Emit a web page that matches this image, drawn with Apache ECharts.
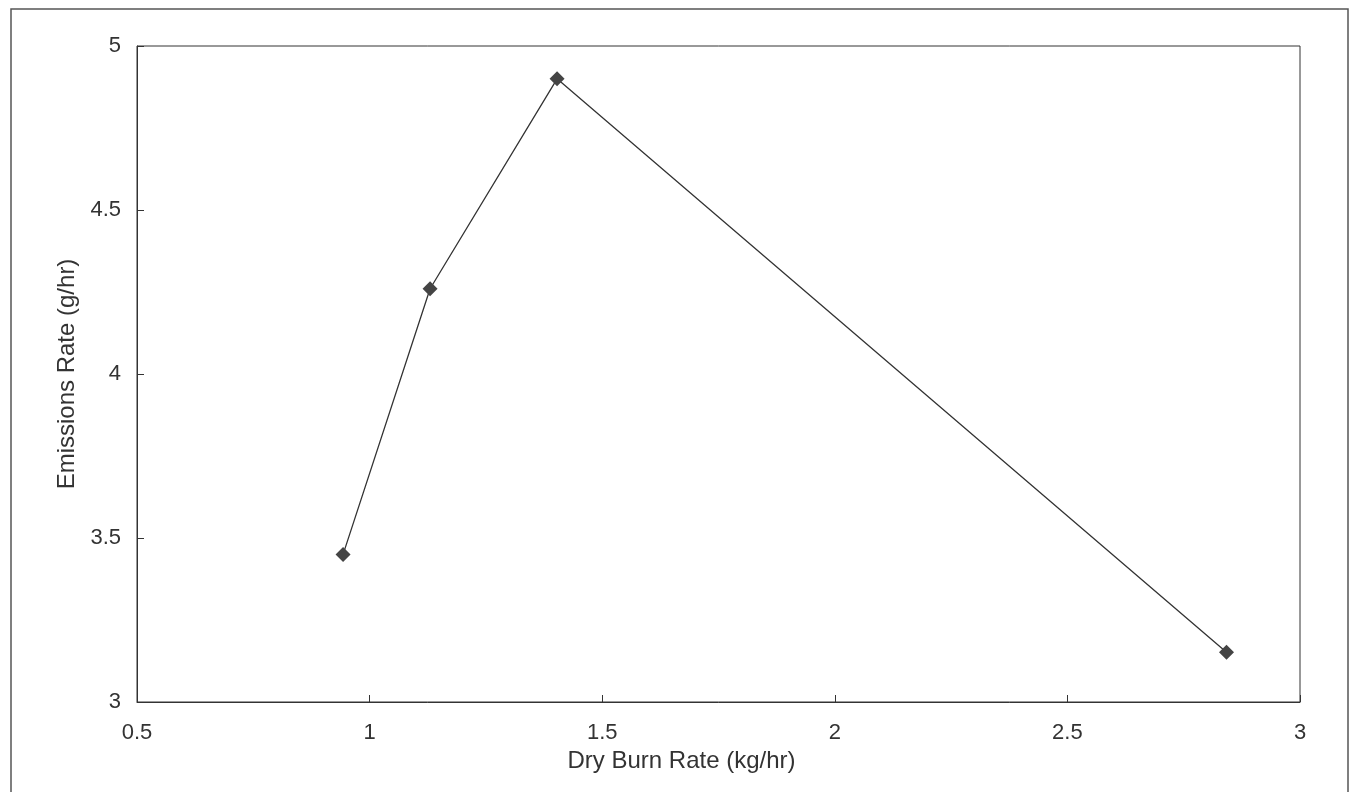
<!DOCTYPE html>
<html>
<head>
<meta charset="utf-8">
<style>
html,body{margin:0;padding:0;background:#fff;}
#chart{width:1350px;height:792px;}
</style>
<script src="https://cdn.jsdelivr.net/npm/echarts@6/dist/echarts.min.js"></script>
</head>
<body>
<div id="chart"></div>
<script>
const burnRate = [0.943, 1.13, 1.403, 2.842];
const emissions = [3.45, 4.26, 4.90, 3.152];
const xTicks = [0.5, 1, 1.5, 2, 2.5, 3];
const yTicks = [3, 3.5, 4, 4.5, 5];

const chart = echarts.init(document.getElementById('chart'));
const font = 'Liberation Sans, Arial, sans-serif';
chart.setOption({
  backgroundColor: '#fff',
  animation: false,
  graphic: [{
    type: 'rect',
    shape: {x: 11, y: 9, width: 1337, height: 800},
    style: {fill: 'none', stroke: '#555', lineWidth: 1.5},
    silent: true
  }],
  grid: {left: 137, right: 50, top: 46, bottom: 90, show: true, borderColor: '#333', borderWidth: 1, backgroundColor: 'transparent'},
  xAxis: {
    type: 'value', min: 0.5, max: 3, interval: 0.5,
    name: 'Dry Burn Rate (kg/hr)', nameLocation: 'middle', nameGap: 41,
    nameTextStyle: {fontFamily: font, fontSize: 24, color: '#333', padding: [0, 74, 0, 0]},
    axisLine: {show: true, lineStyle: {color: '#333', width: 1}},
    axisTick: {show: true, inside: true, length: 7, lineStyle: {color: '#333'}},
    axisLabel: {fontFamily: font, fontSize: 22, color: '#333', margin: 20,
      formatter: v => String(xTicks.find(t => Math.abs(t - v) < 1e-9) ?? v)},
    splitLine: {show: false}
  },
  yAxis: {
    type: 'value', min: 3, max: 5, interval: 0.5,
    name: 'Emissions Rate (g/hr)', nameLocation: 'middle', nameGap: 57,
    nameTextStyle: {fontFamily: font, fontSize: 24, color: '#333'},
    axisLine: {show: true, lineStyle: {color: '#333', width: 1}},
    axisTick: {show: true, inside: true, length: 7, lineStyle: {color: '#333'}},
    axisLabel: {fontFamily: font, fontSize: 22, color: '#333', margin: 16,
      formatter: v => String(yTicks.find(t => Math.abs(t - v) < 1e-9) ?? v)},
    splitLine: {show: false}
  },
  series: [{
    type: 'line',
    data: burnRate.map((x, i) => [x, emissions[i]]),
    symbol: 'diamond', symbolSize: 15,
    itemStyle: {color: '#444'},
    lineStyle: {color: '#333', width: 1.3}
  }]
});
</script>
</body>
</html>
